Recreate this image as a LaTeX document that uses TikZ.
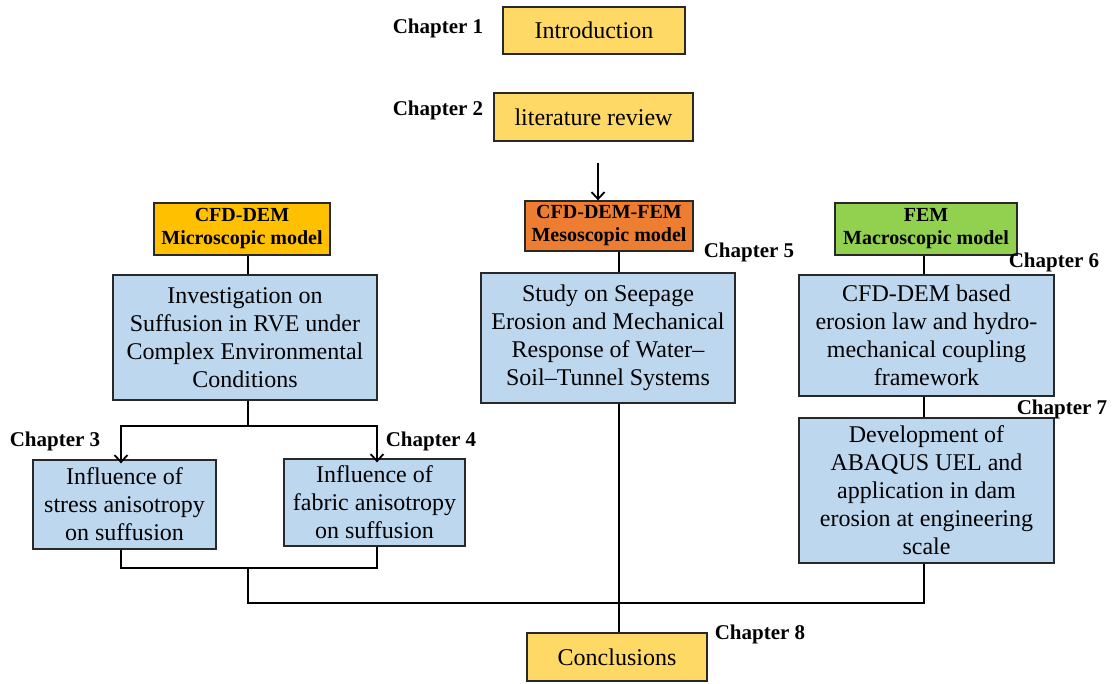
\documentclass[tikz,border=0pt]{standalone}
\usepackage{fontspec}
\setmainfont{Liberation Serif}
\usetikzlibrary{arrows.meta}
\definecolor{yel}{RGB}{255,217,102}
\definecolor{gold}{RGB}{255,192,0}
\definecolor{orng}{RGB}{237,125,49}
\definecolor{grn}{RGB}{146,208,80}
\definecolor{blu}{RGB}{189,215,238}
\definecolor{edge}{RGB}{40,40,40}
\tikzset{
  box/.style={draw=edge, line width=1.3pt, inner sep=0pt, align=center, font=\fontsize{24}{28}\selectfont},
  hdr/.style={draw=edge, line width=1.3pt, inner sep=0pt, align=center, font=\bfseries\fontsize{20}{23}\selectfont},
  chap/.style={inner sep=0pt, font=\bfseries\fontsize{21}{24}\selectfont},
  ln/.style={line width=1.8pt, draw=black},
  arr/.style={line width=1.8pt, draw=black, -{Straight Barb[length=7pt,width=13pt,line width=1.8pt]}}
}
\begin{document}
\begin{tikzpicture}[x=1pt,y=-1pt]
\useasboundingbox (0,0) rectangle (1116,684);
% top boxes
\node[box, fill=yel, minimum width=182pt, minimum height=47pt] (intro) at (594,30.5) {Introduction};
\node[box, fill=yel, minimum width=199pt, minimum height=48pt] (lit) at (593.5,117) {literature review};
\node[chap] (c1) at (438,28) {Chapter 1};
\node[chap] (c2) at (438,110) {Chapter 2};
% headers
\node[hdr, fill=gold, minimum width=176pt, minimum height=52pt] (micro) at (242,229) {CFD-DEM\\Microscopic model};
\node[hdr, fill=orng, minimum width=168pt, minimum height=50pt] (meso) at (609,226) {CFD-DEM-FEM\\Mesoscopic model};
\node[hdr, fill=grn, minimum width=182pt, minimum height=52pt] (macro) at (926,229) {FEM\\Macroscopic model};
% main boxes
\node[box, fill=blu, minimum width=264pt, minimum height=125pt] (inv) at (245,337.5) {Investigation on\\Suffusion in RVE under\\Complex Environmental\\Conditions};
\node[box, fill=blu, minimum width=254pt, minimum height=130pt] (study) at (608,338) {Study on Seepage\\Erosion and Mechanical\\Response of Water--\\Soil--Tunnel Systems};
\node[box, fill=blu, minimum width=255pt, minimum height=121pt] (cfd) at (926.5,335.5) {CFD-DEM based\\erosion law and hydro-\\mechanical coupling\\framework};
\node[box, fill=blu, minimum width=255pt, minimum height=145pt] (dev) at (926.5,490.5) {Development of\\ABAQUS UEL and\\application in dam\\erosion at engineering\\scale};
\node[box, fill=blu, minimum width=183pt, minimum height=89pt] (stress) at (124.5,504.5) {Influence of\\stress anisotropy\\on suffusion};
\node[box, fill=blu, minimum width=181pt, minimum height=87pt] (fabric) at (374.5,502.5) {Influence of\\fabric anisotropy\\on suffusion};
\node[box, fill=yel, minimum width=180pt, minimum height=48pt] (concl) at (617,657) {Conclusions};
% chapter labels
\node[chap] (c3) at (55,441) {Chapter 3};
\node[chap] (c4) at (431,441) {Chapter 4};
\node[chap] (c5) at (749,252) {Chapter 5};
\node[chap] (c6) at (1054,262) {Chapter 6};
\node[chap] (c7) at (1062,409) {Chapter 7};
\node[chap] (c8) at (760,634) {Chapter 8};
% connectors
\coordinate (a0) at (598,163);
\coordinate (xm) at (619,0);
\coordinate (xl) at (248,0);
\coordinate (xr) at (924,0);
\draw[arr] (a0) -- (a0 |- meso.north);
\draw[ln] (micro.south -| xl) -- (inv.north -| xl);
\draw[ln] (meso.south -| xm) -- (study.north -| xm);
\draw[ln] (macro.south -| xr) -- (cfd.north -| xr);
\draw[ln] (cfd.south -| xr) -- (dev.north -| xr);
\draw[ln] (study.south -| xm) -- (concl.north -| xm);
\coordinate (j1) at (248,426);
\coordinate (sx) at (121,0);
\coordinate (fx) at (377,0);
\draw[ln] (inv.south -| xl) -- (j1);
\draw[arr] (j1) -| ([yshift=-4pt]stress.north -| sx);
\draw[arr] (j1) -| ([yshift=-4pt]fabric.north -| fx);
\coordinate (j2) at (248,568);
\coordinate (j3) at (248,603);
\draw[ln] (stress.south -| sx) |- (j2) -| (fabric.south -| fx);
\draw[ln] (j2) -- (j3) -| (dev.south -| xr);
\end{tikzpicture}
\end{document}
